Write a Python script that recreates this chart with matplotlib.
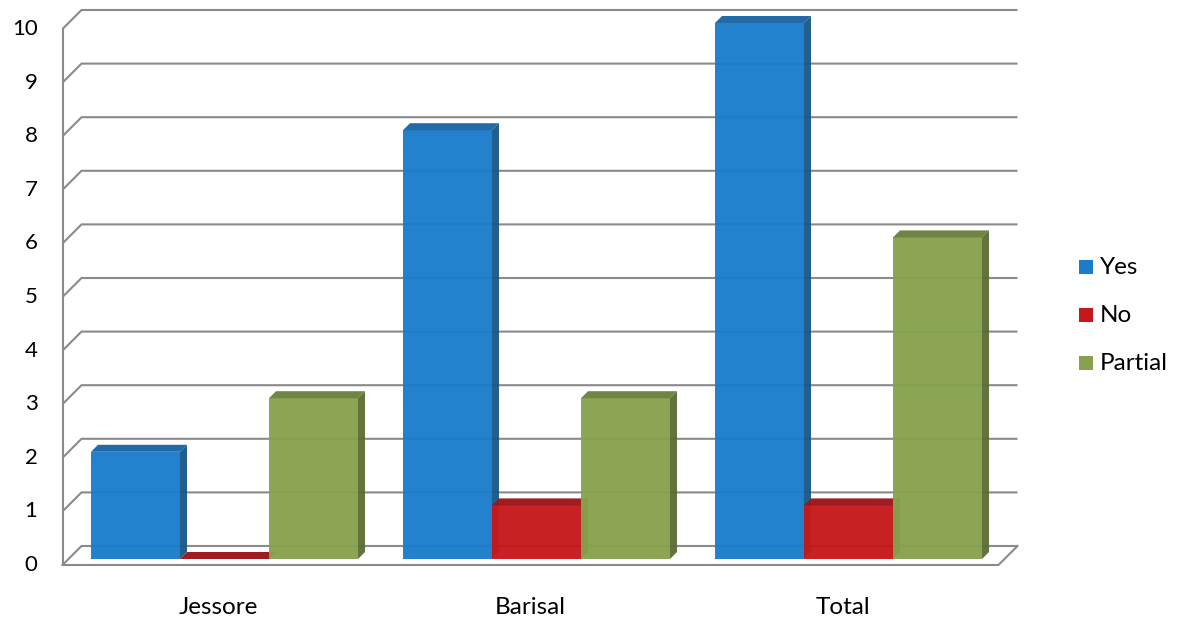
import matplotlib.pyplot as plt
from matplotlib.patches import Polygon, Rectangle

plt.rcParams['font.family'] = ['Lato', 'DejaVu Sans']

categories = ["Jessore", "Barisal", "Total"]
series = ["Yes", "No", "Partial"]
yes = [2, 8, 10]
no = [0, 1, 1]
partial = [3, 3, 6]
yticks = list(range(0, 11))

values = [yes, no, partial]
# front, top, side colours for each series
face_cols = ['#1a7ccb', '#c6181b', '#86a24e']
top_cols = ['#1b66a4', '#9c1519', '#6b8040']
side_cols = ['#185888', '#921215', '#5b6e35']

W, H = 1178, 627
# pixel layout of the bar plane
CX, GAP = 536.5, 312.0      # middle group centre, group spacing (px)
Y0, UNIT = 559.0, 53.6      # value 0 row, px per unit
PX, PY = 1 / GAP, 1 / UNIT  # one pixel in data units

FRONT, BAR_D, BACK = -6, 7, 13   # depths in px relative to bar fronts
BAR_W = 0.2853
grid_col = '#8a8a8a'


def at(x, v, d=0):
    # shift a point backwards (up-right) by d pixels
    return (x + d * PX, v + d * PY)


fig = plt.figure(figsize=(W / 100, H / 100), dpi=100)
ax = fig.add_axes([0, 0, 1, 1])
ax.set_xlim(1 + (0 - CX) / GAP, 1 + (W - CX) / GAP)
ax.set_ylim((Y0 - H) / UNIT, Y0 / UNIT)
ax.axis('off')

x_lo, x_hi = -0.5, len(categories) - 0.5

# back wall + side wall gridlines, tick labels on the front plane
for t in yticks:
    xs, ys = zip(at(x_lo, t, FRONT), at(x_lo, t, BACK), at(x_hi, t, BACK))
    ax.plot(xs, ys, color=grid_col, lw=1.5, solid_capstyle='butt', zorder=1)
    lx, ly = at(x_lo, t, FRONT)
    ax.text(lx - 25 * PX, ly, str(t), ha='right', va='center', fontsize=16)

# floor front edge + right edge, front vertical axis
xs, ys = zip(at(x_lo, 0, FRONT), at(x_hi, 0, FRONT), at(x_hi, 0, BACK))
ax.plot(xs, ys, color=grid_col, lw=1.5, zorder=1)
xs, ys = zip(at(x_lo, 0, FRONT), at(x_lo, yticks[-1], FRONT))
ax.plot(xs, ys, color=grid_col, lw=1.5, zorder=1)

# bars, left to right
for i in range(len(categories)):
    for j in range(len(series)):
        v = values[j][i]
        x0 = i + (j - 1) * BAR_W - BAR_W / 2
        x1 = x0 + BAR_W
        ax.add_patch(Rectangle((x0, 0), BAR_W, v, facecolor=face_cols[j],
                               edgecolor='none', alpha=0.96, zorder=2))
        ax.add_patch(Polygon([at(x0, v), at(x1, v), at(x1, v, BAR_D), at(x0, v, BAR_D)],
                             facecolor=top_cols[j], edgecolor='none', alpha=0.97, zorder=2))
        ax.add_patch(Polygon([at(x1, 0), at(x1, v), at(x1, v, BAR_D), at(x1, 0, BAR_D)],
                             facecolor=side_cols[j], edgecolor='none', alpha=0.96, zorder=2))

# category labels
for i, c in enumerate(categories):
    ax.text(i - 6 * PX, -(608 - Y0) / UNIT, c, ha='center', va='center', fontsize=17.5)

# legend
for j, s in enumerate(series):
    yc = 1 - (267 + 48 * j) / H
    fig.patches.append(Rectangle((1079 / W, yc - 7 / H), 14 / W, 14 / H,
                                 facecolor=face_cols[j], edgecolor='none',
                                 transform=fig.transFigure, figure=fig))
    fig.text(1100 / W, yc, s, ha='left', va='center', fontsize=17.5)

fig.savefig('out.png', dpi=100)
